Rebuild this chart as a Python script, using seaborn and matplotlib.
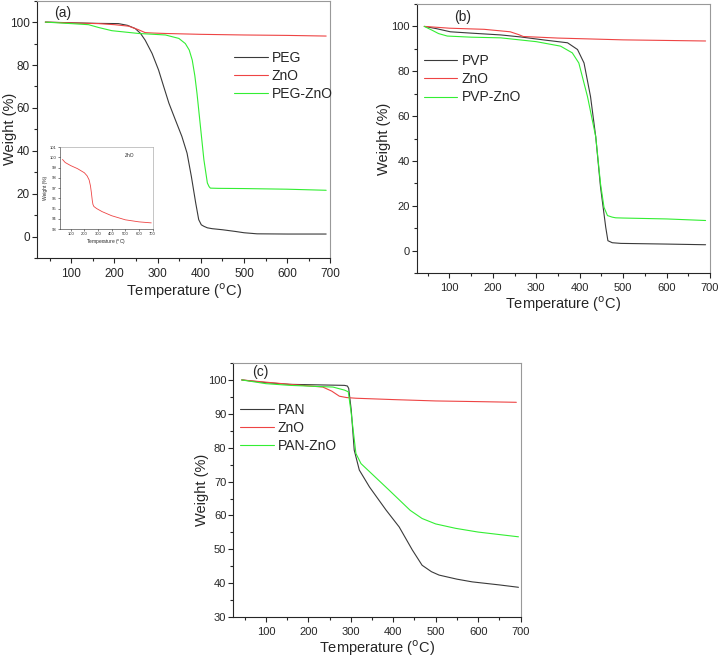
import seaborn as sns
import matplotlib.pyplot as plt
from matplotlib.ticker import MultipleLocator

sns.set_style("ticks")
plt.rcParams['font.family'] = ['Liberation Sans', 'DejaVu Sans']

# (a) PEG / ZnO / PEG-ZnO
peg_t = [40, 100, 163, 209, 230, 248, 260, 271, 287, 302, 314, 326, 341, 356, 368, 378, 388, 395, 401, 407, 415, 426, 450, 480, 500, 530, 600, 690]
peg_w = [100, 99.7, 99.4, 99.3, 98.5, 97, 94.8, 91.6, 85.4, 77.7, 69.9, 62.2, 54.4, 46.7, 38.9, 28, 15.7, 7.9, 5.5, 4.8, 4.1, 3.7, 3.2, 2.4, 1.8, 1.3, 1.2, 1.2]
zno_t = [40, 100, 163, 200, 233, 255, 271, 290, 318, 400, 500, 600, 690]
zno_w = [100, 99.6, 99.3, 98.8, 98.1, 96.5, 95.1, 94.9, 94.7, 94.3, 94.0, 93.8, 93.5]
pegzno_t = [40, 100, 140, 163, 194, 256, 318, 349, 364, 373, 380, 386, 391, 399, 407, 415, 419, 422, 440, 500, 600, 690]
pegzno_w = [100, 99.3, 98.8, 97.5, 96, 94.7, 94, 92.4, 90, 87, 82.3, 75, 66.8, 51.3, 35.8, 25, 23.3, 22.6, 22.5, 22.4, 22.1, 21.6]

# inset: ZnO alone
ins_t = [40, 60, 100, 150, 200, 220, 235, 245, 252, 258, 263, 270, 290, 330, 400, 500, 600, 690]
ins_w = [99.8, 99.5, 99.2, 98.9, 98.5, 98.2, 97.8, 97.2, 96.5, 95.8, 95.4, 95.2, 95.0, 94.7, 94.3, 93.9, 93.7, 93.6]

# (b) PVP / ZnO / PVP-ZnO
pvp_t = [42, 70, 102, 150, 218, 264, 320, 372, 395, 410, 425, 437, 448, 460, 465, 475, 495, 600, 690]
pvp_w = [100, 99, 97.6, 97, 96.2, 95.3, 93.9, 92.7, 89.7, 83.7, 68.7, 50.8, 28.4, 10.5, 4.5, 3.6, 3.3, 3.0, 2.7]
zno2_t = [42, 100, 180, 240, 260, 270, 350, 500, 690]
zno2_w = [100, 99.2, 98.7, 97.6, 96.3, 95.5, 94.8, 94.0, 93.5]
pvpzno_t = [42, 60, 75, 95, 150, 218, 300, 356, 383, 398, 418, 437, 448, 456, 464, 475, 483, 500, 600, 690]
pvpzno_w = [100, 98.3, 96.8, 95.7, 95.2, 94.9, 93.2, 91.2, 88.2, 83.7, 68.7, 50.8, 29.9, 19.4, 15.7, 15.0, 14.7, 14.6, 14.2, 13.5]

# (c) PAN / ZnO / PAN-ZnO
pan_t = [43, 100, 156, 285, 292, 295, 301, 308, 320, 344, 383, 414, 445, 468, 490, 508, 550, 586, 650, 695]
pan_w = [100, 99.2, 98.7, 98.4, 98.2, 97.5, 91.1, 79.3, 73.4, 68.4, 61.6, 56.6, 49.8, 45.3, 43.4, 42.4, 41.2, 40.4, 39.5, 38.8]
zno3_t = [43, 156, 234, 255, 273, 290, 312, 400, 500, 600, 690]
zno3_w = [100, 98.7, 97.9, 96.7, 95.2, 94.8, 94.6, 94.2, 93.8, 93.6, 93.4]
panzno_t = [43, 100, 156, 258, 285, 294, 301, 312, 324, 390, 440, 468, 500, 547, 600, 695]
panzno_w = [100, 98.9, 98.4, 97.9, 97.0, 96.5, 90.1, 78.3, 75.3, 67.5, 61.5, 59.1, 57.5, 56.2, 55.1, 53.7]

black = '#3a3a3a'
red = '#ee4444'
green = '#33ee33'
lw = 0.8

fig = plt.figure(figsize=(7.2, 6.6), dpi=100)
ax_a = fig.add_axes([0.051, 0.609, 0.408, 0.390])
ax_b = fig.add_axes([0.579, 0.586, 0.407, 0.408])
ax_c = fig.add_axes([0.324, 0.065, 0.399, 0.385])
ax_in = fig.add_axes([0.083, 0.653, 0.129, 0.124])

deg_label = 'Temperature ($^{\\mathrm{o}}$C)'


def style(ax, xlim, ylim, ymaj, ymin, tsize, ylab_x):
    ax.set_xlim(*xlim)
    ax.set_ylim(*ylim)
    ax.xaxis.set_major_locator(MultipleLocator(100))
    ax.xaxis.set_minor_locator(MultipleLocator(50))
    ax.yaxis.set_major_locator(MultipleLocator(ymaj))
    ax.yaxis.set_minor_locator(MultipleLocator(ymin))
    ax.tick_params(which='both', direction='out', top=False, right=False, width=0.8)
    ax.tick_params(which='major', length=3.5, labelsize=tsize)
    ax.tick_params(axis='y', pad=1.5)
    ax.tick_params(which='minor', length=2.5)
    for s in ['top', 'right']:
        ax.spines[s].set_color('#999999')
    for s in ax.spines.values():
        s.set_linewidth(0.8)
    ax.set_xlabel(deg_label, fontsize=10.5, labelpad=1)
    ax.set_ylabel('Weight (%)', fontsize=10.5)
    ax.yaxis.set_label_coords(ylab_x, 0.5)


def legend(ax, anchor):
    ax.legend(loc='upper left', bbox_to_anchor=anchor, frameon=False, fontsize=10,
              borderaxespad=0, borderpad=0, handlelength=2.4, handletextpad=0.3, labelspacing=0.3)


# panel a
sns.lineplot(x=peg_t, y=peg_w, color=black, lw=lw, ax=ax_a, label='PEG')
sns.lineplot(x=zno_t, y=zno_w, color=red, lw=lw, ax=ax_a, label='ZnO')
sns.lineplot(x=pegzno_t, y=pegzno_w, color=green, lw=lw, ax=ax_a, label='PEG-ZnO')
style(ax_a, (20, 700), (-10, 110), 20, 10, 8.5, -0.068)
legend(ax_a, (0.673, 0.806))
ax_a.text(0.088, 0.953, '(a)', transform=ax_a.transAxes, ha='center', va='center', fontsize=10)

# inset
sns.lineplot(x=ins_t, y=ins_w, color=red, lw=0.6, ax=ax_in)
ax_in.set_xlim(20, 700)
ax_in.set_ylim(93, 101)
ax_in.xaxis.set_major_locator(MultipleLocator(100))
ax_in.yaxis.set_major_locator(MultipleLocator(1))
ax_in.tick_params(labelsize=3, length=1.5, width=0.4, pad=1)
for s in ax_in.spines.values():
    s.set_linewidth(0.4)
for s in ['top', 'right']:
    ax_in.spines[s].set_color('#999999')
ax_in.set_xlabel(deg_label, fontsize=3.5, labelpad=1)
ax_in.set_ylabel('Weight (%)', fontsize=3.5, labelpad=1)
ax_in.text(0.75, 0.9, 'ZnO', transform=ax_in.transAxes, ha='center', va='center', fontsize=3.5)

# panel b
sns.lineplot(x=pvp_t, y=pvp_w, color=black, lw=lw, ax=ax_b, label='PVP')
sns.lineplot(x=zno2_t, y=zno2_w, color=red, lw=lw, ax=ax_b, label='ZnO')
sns.lineplot(x=pvpzno_t, y=pvpzno_w, color=green, lw=lw, ax=ax_b, label='PVP-ZnO')
style(ax_b, (25, 700), (-10, 110), 20, 10, 8, -0.088)
legend(ax_b, (0.024, 0.814))
ax_b.text(0.157, 0.952, '(b)', transform=ax_b.transAxes, ha='center', va='center', fontsize=10)

# panel c
sns.lineplot(x=pan_t, y=pan_w, color=black, lw=lw, ax=ax_c, label='PAN')
sns.lineplot(x=zno3_t, y=zno3_w, color=red, lw=lw, ax=ax_c, label='ZnO')
sns.lineplot(x=panzno_t, y=panzno_w, color=green, lw=lw, ax=ax_c, label='PAN-ZnO')
style(ax_c, (23, 700), (30, 105), 10, 5, 8, -0.084)
legend(ax_c, (0.024, 0.843))
ax_c.text(0.094, 0.965, '(c)', transform=ax_c.transAxes, ha='center', va='center', fontsize=10)

fig.savefig('out.png', dpi=100)
